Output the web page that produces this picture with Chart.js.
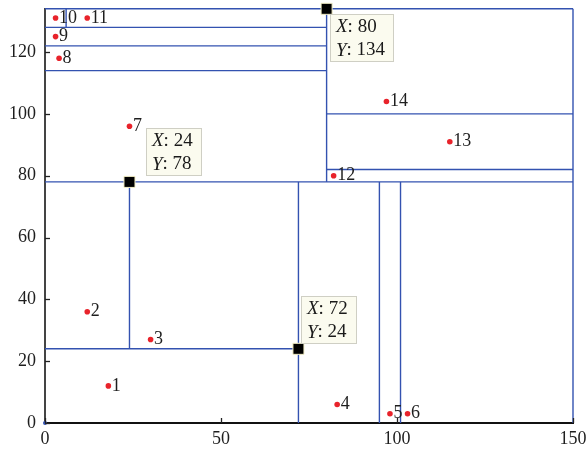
<!DOCTYPE html>
<html lang="en">
<head>
<meta charset="UTF-8">
<title>k-d tree partition</title>
<script src="https://cdn.jsdelivr.net/npm/chart.js"></script>
<style>
  html, body { margin: 0; padding: 0; background: #fff; }
  #wrap { width: 588px; height: 453px; }
</style>
</head>
<body>
<div id="wrap"><canvas id="kdChart" width="588" height="453"></canvas></div>
<script>
// sample points and their numbers
const pointIds = [1, 2, 3, 4, 5, 6, 7, 8, 9, 10, 11, 12, 13, 14];
const pointX = [18, 12, 30, 83, 98, 103, 24, 4, 3, 3, 12, 82, 115, 97];
const pointY = [12, 36, 27, 6, 3, 3, 96, 118, 125, 131, 131, 80, 91, 104];

// split nodes with value tags
const nodeX = [80, 24, 72];
const nodeY = [134, 78, 24];

// partition cuts, each [x1, y1, x2, y2]
const cuts = [
  [0, 78, 150, 78],
  [72, 0, 72, 78],
  [0, 24, 72, 24],
  [24, 24, 24, 78],
  [95, 0, 95, 78],
  [101, 0, 101, 78],
  [80, 78, 80, 134],
  [0, 114, 80, 114],
  [0, 122, 80, 122],
  [0, 128, 80, 128],
  [6, 128, 6, 134],
  [80, 100, 150, 100],
  [80, 82, 150, 82],
  [0, 134, 150, 134],
  [150, 0, 150, 134]
];

const xTicks = [0, 50, 100, 150];
const yTicks = [0, 20, 40, 60, 80, 100, 120];

const FONT = '"Liberation Serif", "DejaVu Serif", serif';
const LINE_BLUE = '#3352b0';

// tag placement per node: shift from the node and whether it sits above it
const tagPlace = [
  { dx: 3, dy: 5, above: false },
  { dx: 17, dy: -7, above: true },
  { dx: 3, dy: -6, above: true }
];

const datasets = [];

datasets.push({
  data: nodeX.map((x, i) => ({ x, y: nodeY[i] })),
  pointStyle: 'rect',
  pointRadius: 7.8,
  backgroundColor: '#000',
  borderColor: '#f4f0c8',
  borderWidth: 1,
  showLine: false,
  clip: false,
  order: 0
});

datasets.push({
  data: pointX.map((x, i) => ({ x, y: pointY[i] })),
  pointRadius: 2.8,
  backgroundColor: '#e8232b',
  borderWidth: 0,
  showLine: false,
  order: 1
});

datasets.push({
  data: [{ x: 0, y: 0 }],
  pointRadius: 2,
  backgroundColor: LINE_BLUE,
  borderWidth: 0,
  showLine: false,
  clip: false,
  order: 1
});

cuts.forEach(c => {
  datasets.push({
    data: [{ x: c[0], y: c[1] }, { x: c[2], y: c[3] }],
    showLine: true,
    borderColor: LINE_BLUE,
    borderWidth: 1.4,
    pointRadius: 0,
    clip: false,
    order: 2
  });
});

// short tick marks pointing into the plot
const innerTicks = {
  id: 'innerTicks',
  afterDraw(chart) {
    const { ctx, chartArea, scales } = chart;
    ctx.save();
    ctx.strokeStyle = '#222';
    ctx.lineWidth = 1.3;
    xTicks.forEach(v => {
      const px = Math.round(scales.x.getPixelForValue(v)) + 0.5;
      ctx.beginPath();
      ctx.moveTo(px, chartArea.bottom);
      ctx.lineTo(px, chartArea.bottom - 5);
      ctx.stroke();
    });
    yTicks.forEach(v => {
      const py = Math.round(scales.y.getPixelForValue(v)) + 0.5;
      ctx.beginPath();
      ctx.moveTo(chartArea.left, py);
      ctx.lineTo(chartArea.left + 5, py);
      ctx.stroke();
    });
    ctx.restore();
  }
};

// numbers beside the points and the X/Y tags of the split nodes
const annotations = {
  id: 'annotations',
  afterDatasetsDraw(chart) {
    const { ctx, scales } = chart;
    ctx.save();
    ctx.fillStyle = '#1e1e1e';
    ctx.font = '18px ' + FONT;
    ctx.textBaseline = 'middle';
    ctx.textAlign = 'left';
    pointIds.forEach((id, i) => {
      const px = scales.x.getPixelForValue(pointX[i]);
      const py = scales.y.getPixelForValue(pointY[i]);
      ctx.fillText(String(id), px + 3.5, py);
    });

    const tagFont = '19px ' + FONT;
    const tagItalic = 'italic 19px ' + FONT;
    nodeX.forEach((xv, i) => {
      const px = scales.x.getPixelForValue(xv);
      const py = scales.y.getPixelForValue(nodeY[i]);
      const place = tagPlace[i];
      const lines = [['X', ': ' + xv], ['Y', ': ' + nodeY[i]]];
      const widths = lines.map(l => {
        ctx.font = tagItalic;
        const a = ctx.measureText(l[0]).width;
        ctx.font = tagFont;
        return a + ctx.measureText(l[1]).width;
      });
      const w = Math.round(Math.max(...widths) + 14);
      const h = 47;
      const left = Math.round(px + place.dx);
      const top = Math.round(place.above ? py + place.dy - h : py + place.dy);
      ctx.fillStyle = '#fbfbef';
      ctx.strokeStyle = '#cfcfc4';
      ctx.lineWidth = 1;
      ctx.fillRect(left, top, w, h);
      ctx.strokeRect(left + 0.5, top + 0.5, w, h);
      ctx.fillStyle = '#1a1a1a';
      lines.forEach((l, k) => {
        const ty = top + 13 + k * 23.5;
        ctx.font = tagItalic;
        ctx.fillText(l[0], left + 6, ty);
        const a = ctx.measureText(l[0]).width;
        ctx.font = tagFont;
        ctx.fillText(l[1], left + 6 + a, ty);
      });
    });
    ctx.restore();
  }
};

new Chart(document.getElementById('kdChart'), {
  type: 'scatter',
  data: { datasets },
  options: {
    responsive: false,
    animation: false,
    devicePixelRatio: 1,
    layout: { padding: { top: 8, right: 15, left: 0, bottom: 0 } },
    plugins: {
      legend: { display: false },
      tooltip: { enabled: false }
    },
    scales: {
      x: {
        type: 'linear',
        min: 0,
        max: 150,
        afterBuildTicks: s => { s.ticks = xTicks.map(v => ({ value: v })); },
        afterFit: s => {
          s.height = 30;
          s.paddingLeft = 0;
          s.paddingRight = 0;
        },
        grid: { display: false, drawTicks: false },
        border: { display: true, color: '#111', width: 2 },
        ticks: { padding: 5, color: '#1e1e1e', font: { family: FONT, size: 18 } }
      },
      y: {
        type: 'linear',
        min: 0,
        max: 134,
        afterBuildTicks: s => { s.ticks = yTicks.map(v => ({ value: v })); },
        afterFit: s => {
          s.width = 45;
          s.paddingTop = 0;
          s.paddingBottom = 0;
        },
        grid: { display: false, drawTicks: false },
        border: { display: true, color: '#444', width: 2 },
        ticks: { padding: 9, color: '#1e1e1e', font: { family: FONT, size: 18 } }
      }
    }
  },
  plugins: [innerTicks, annotations]
});
</script>
</body>
</html>
